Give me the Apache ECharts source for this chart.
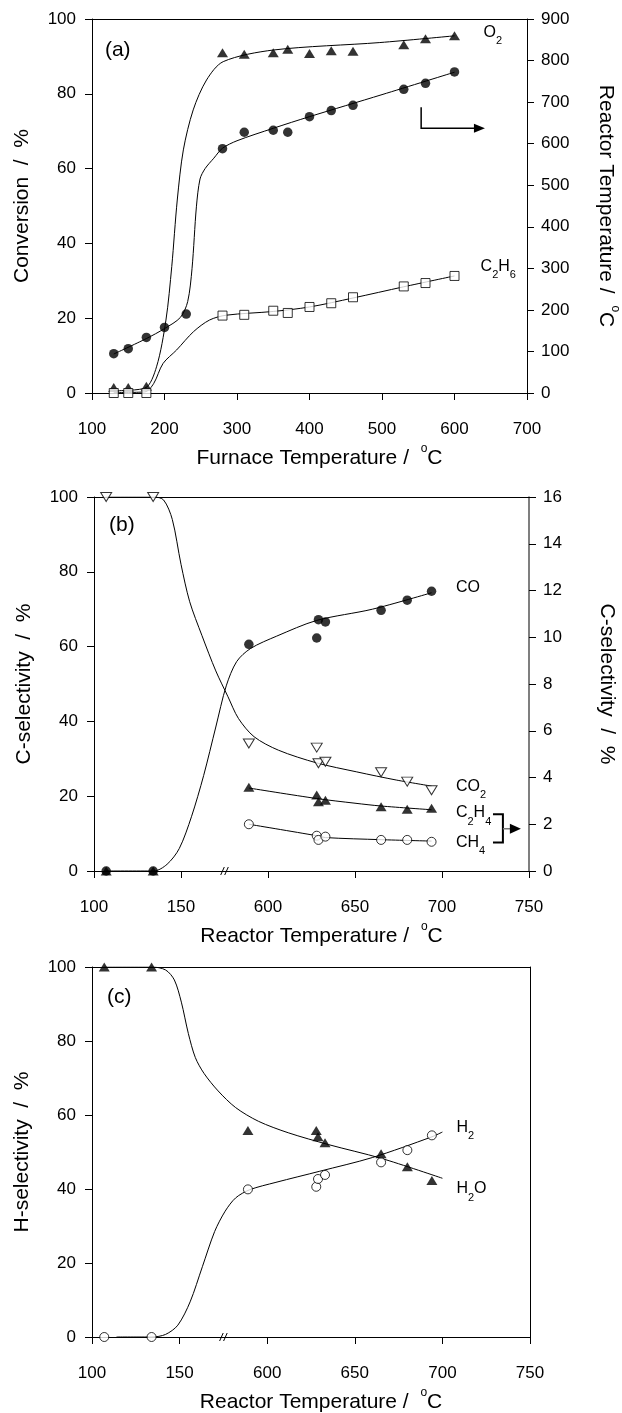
<!DOCTYPE html>
<html>
<head>
<meta charset="utf-8">
<script src="https://cdn.jsdelivr.net/npm/echarts@6/dist/echarts.min.js"></script>
<style>
html, body { margin: 0; padding: 0; background: #fff; }
#main { width: 622px; height: 1413px; }
</style>
</head>
<body>
<div id="main"></div>
<script>
const FONT = "'Liberation Sans', Arial, sans-serif";

// ---- (a) conversion vs furnace temperature ----
const furnaceT = [130, 150, 175, 280, 310, 350, 370, 400, 430, 460, 530, 560, 600];
const o2Conv = [1.5, 1.5, 1.8, 91.0, 90.6, 91.0, 91.9, 90.8, 91.5, 91.4, 93.1, 94.7, 95.5];
const c2h6Conv = [0, 0, 0, 20.7, 20.9, 22.0, 21.4, 23.0, 24.0, 25.6, 28.5, 29.4, 31.3];
const reactorFurnaceT = [130, 150, 175, 200, 230, 280, 310, 350, 370, 400, 430, 460, 530, 560, 600];
const reactorT = [94.6, 106.6, 133.8, 157.9, 189.9, 588, 627.5, 632.3, 627.5, 665, 679.6, 692.4, 730.9, 745.3, 772.5];

// fitted curves [furnace T, value]
const o2Fit = [[130, 0.6], [173, 1.3], [189, 7.0], [202, 19.5], [210, 33.8], [217.6, 51.6], [226, 65], [239.6, 75.7],
  [258, 83.7], [281, 88.6], [350, 91.7], [497, 93.7], [600, 95.5]];
const c2h6Fit = [[130, 0.1], [173, 0.3], [185, 2.5], [198, 7.9], [216.7, 11.5], [240, 16.4], [262, 19.5], [285, 20.8],
  [350, 21.8], [400, 23], [460, 25.4], [530, 28.4], [600, 31.3]];
const reactorFit = [[130, 93.8], [175, 131], [200, 155], [222, 182], [232, 220], [238, 300], [244, 448], [249, 515],
  [256, 540], [268, 565], [280, 589], [300, 607], [350, 637], [400, 665], [500, 718], [600, 772]];

// ---- (b), (c) selectivity vs reactor temperature ----
const reactorTemps = [107, 134, 589, 628, 629, 633, 665, 680, 694];
const co2Sel = [100, 100, 34.1, 33.0, 28.8, 29.2, 26.4, 23.9, 21.6];
const coSel = [0, 0, 60.6, 62.3, 67.2, 66.6, 69.7, 72.4, 74.8];
const c2h4Sel = [0, 0, 3.58, 3.25, 2.96, 3.03, 2.75, 2.64, 2.68];      // right axis
const ch4Sel = [null, null, 2.0, 1.51, 1.33, 1.47, 1.33, 1.33, 1.25];  // right axis
const h2oSel = [100, 100, 55.8, 55.8, 54.1, 52.5, 49.5, 46.0, 42.3];
const h2Sel = [0, 0, 39.9, 40.6, 42.7, 43.8, 47.2, 50.5, 54.5];

const co2Fit = [[106.6, 100], [134.4, 100], [140, 99.2], [145, 94], [150, 82], [155, 72], [162, 63], [170, 53.5],
  [577, 46.6], [583, 40.8], [592, 35.9], [606, 32.3], [628, 28.9], [651, 26.5], [674, 24.3], [694, 22.7]];
const coFit = [[106.6, 0], [134.4, 0], [142, 1.8], [149, 6], [156, 14.5], [163, 25.5], [170, 38.5], [576, 49.5],
  [582, 56], [590, 59.5], [605, 62.8], [628, 67], [660, 70], [694, 74.4]];
const c2h4Fit = [[589, 3.55], [628, 3.1], [650, 2.9], [665, 2.78], [694, 2.62]];
const ch4Fit = [[589, 2.0], [628, 1.51], [633, 1.43], [665, 1.34], [694, 1.28]];
const h2oFit = [[107, 100], [134.2, 100], [142, 99.2], [147, 96.5], [151, 90.5], [155, 82], [159, 75.5], [164, 71.2],
  [172, 66.5], [582, 62], [595, 58.3], [612, 55.2], [635, 52], [665, 48.3], [700, 42.9]];
const h2Fit = [[114, 0], [134.2, 0], [142, 0.7], [149, 3.2], [156, 9.5], [163, 19], [170, 28.5], [576, 34],
  [582, 37.6], [590, 39.8], [605, 41.8], [630, 44.8], [660, 48.5], [694, 54.1], [700, 55.4]];

// broken axis: 100..175 kept, 575.. shifted down by 400
function brk(t) { return t >= 575 ? t - 400 : t; }
function unbrk(u) { return u > 175 ? u + 400 : u; }

const chart = echarts.init(document.getElementById('main'));

const axisLine = { show: true, onZero: false, lineStyle: { color: '#000', width: 1 } };
const tick = { show: true, inside: false, length: 7, lineStyle: { color: '#000', width: 1 } };
const lbl = { color: '#000', fontSize: 17, fontFamily: FONT };
const supRich = { sup: { fontSize: 12, verticalAlign: 'top', lineHeight: 12, fontFamily: FONT, color: '#000' } };
const nameStyle = { color: '#000', fontSize: 21, fontFamily: FONT, lineHeight: 30, rich: supRich };

function frameX(gi, min, max) {
  return { gridIndex: gi, type: 'value', position: 'top', min, max, axisLine,
    axisTick: { show: false }, axisLabel: { show: false }, splitLine: { show: false } };
}
function bottomX(gi, min, max, interval, name, fmt) {
  return { gridIndex: gi, type: 'value', position: 'bottom', min, max, interval,
    name, nameLocation: 'middle', nameGap: 50, nameTextStyle: Object.assign({ padding: [0, 0, 0, 20] }, nameStyle),
    axisLine, axisTick: tick, axisLabel: Object.assign({ margin: 28, formatter: fmt }, lbl),
    splitLine: { show: false } };
}
function leftY(gi, name) {
  return { gridIndex: gi, type: 'value', position: 'left', min: 0, max: 100, interval: 20,
    name, nameLocation: 'middle', nameRotate: 90, nameGap: 54, nameTextStyle: nameStyle,
    axisLine, axisTick: tick, axisLabel: Object.assign({ margin: 16 }, lbl), splitLine: { show: false } };
}
function rightY(gi, max, interval, name, gap, color) {
  const line = color ? { show: true, lineStyle: { color, width: 1.5 } } : axisLine;
  return { gridIndex: gi, type: 'value', position: 'right', min: 0, max, interval,
    name, nameLocation: 'middle', nameRotate: -90, nameGap: gap, nameTextStyle: nameStyle,
    axisLine: line, axisTick: tick, axisLabel: Object.assign({ margin: 14 }, lbl), splitLine: { show: false } };
}

const sym = {
  filledCircle: { symbol: 'circle', symbolSize: 9.5, itemStyle: { color: '#000' } },
  openCircle: { symbol: 'circle', symbolSize: 9, itemStyle: { color: '#fff', borderColor: '#000', borderWidth: 1 } },
  filledTri: { symbol: 'triangle', symbolSize: [11, 9], itemStyle: { color: '#000' } },
  openDownTri: { symbol: 'triangle', symbolRotate: 180, symbolSize: [11, 9],
    itemStyle: { color: '#fff', borderColor: '#000', borderWidth: 1 } },
  openSquare: { symbol: 'rect', symbolSize: 9, itemStyle: { color: '#fff', borderColor: '#000', borderWidth: 1 } }
};

function fit(xi, yi, data, toAxis) {
  return { type: 'line', xAxisIndex: xi, yAxisIndex: yi, silent: true, z: 2,
    data: data.map(p => [toAxis ? brk(p[0]) : p[0], p[1]]),
    smooth: 0.3, symbol: 'none', lineStyle: { color: '#000', width: 1 } };
}
function pts(xi, yi, xs, ys, s, toAxis) {
  const data = [];
  xs.forEach((x, i) => { if (ys[i] != null) data.push([toAxis ? brk(x) : x, ys[i]]); });
  return Object.assign({ type: 'scatter', xAxisIndex: xi, yAxisIndex: yi, silent: true, z: 3, data }, s);
}

const tempName = 'Reactor Temperature /  {sup|o}C';

chart.setOption({
  animation: false,
  backgroundColor: '#fff',
  grid: [
    { left: 92, top: 19, width: 435, height: 374, outerBoundsMode: 'none' },
    { left: 94, top: 497, width: 435, height: 374, outerBoundsMode: 'none' },
    { left: 92, top: 967, width: 438, height: 370, outerBoundsMode: 'none' }
  ],
  xAxis: [
    bottomX(0, 100, 700, 100, 'Furnace Temperature /  {sup|o}C'),
    frameX(0, 100, 700),
    bottomX(1, 100, 350, 50, tempName, v => unbrk(v)),
    frameX(1, 100, 350),
    bottomX(2, 100, 350, 50, tempName, v => unbrk(v)),
    frameX(2, 100, 350)
  ],
  yAxis: [
    leftY(0, 'Conversion  /  %'),
    rightY(0, 900, 100, tempName, 64),
    leftY(1, 'C-selectivity  /  %'),
    rightY(1, 16, 2, 'C-selectivity  /  %', 63, '#555'),
    leftY(2, 'H-selectivity  /  %'),
    { gridIndex: 2, type: 'value', position: 'right', min: 0, max: 100, axisLine,
      axisTick: { show: false }, axisLabel: { show: false }, splitLine: { show: false } }
  ],
  series: [
    // (a)
    fit(0, 0, o2Fit), fit(0, 0, c2h6Fit), fit(0, 1, reactorFit),
    pts(0, 0, furnaceT, o2Conv, sym.filledTri),
    pts(0, 0, furnaceT, c2h6Conv, sym.openSquare),
    pts(0, 1, reactorFurnaceT, reactorT, sym.filledCircle),
    // (b)
    fit(2, 2, co2Fit, true), fit(2, 2, coFit, true), fit(2, 3, c2h4Fit, true), fit(2, 3, ch4Fit, true),
    pts(2, 2, reactorTemps, co2Sel, sym.openDownTri, true),
    pts(2, 3, reactorTemps, c2h4Sel, sym.filledTri, true),
    pts(2, 3, reactorTemps, ch4Sel, sym.openCircle, true),
    pts(2, 2, reactorTemps, coSel, sym.filledCircle, true),
    // (c)
    fit(4, 4, h2oFit, true), fit(4, 4, h2Fit, true),
    pts(4, 4, reactorTemps, h2oSel, sym.filledTri, true),
    pts(4, 4, reactorTemps, h2Sel, sym.openCircle, true)
  ]
});

// ---- annotations (placed in data units, converted by the chart) ----
function P(xi, yi, pt) { return chart.convertToPixel({ xAxisIndex: xi, yAxisIndex: yi }, pt); }

const subRich = { sub: { fontSize: 11, verticalAlign: 'bottom', lineHeight: 10, fontFamily: FONT, fill: '#000' } };
function label(xi, yi, x, y, text, size) {
  const p = P(xi, yi, [x, y]);
  return { type: 'text', x: p[0], y: p[1], z: 10, silent: true,
    style: { text, fill: '#000', fontSize: size || 16, fontFamily: FONT, lineHeight: 28,
      align: 'left', verticalAlign: 'middle', rich: subRich } };
}

const panelLabels = [
  [0, 0, 117.8, 91.7, '(a)', 21],
  [0, 0, 640, 96.3, 'O{sub|2}'],
  [0, 0, 636, 33.8, 'C{sub|2}H{sub|6}'],
  [2, 2, brk(108.6), 92.5, '(b)', 21],
  [2, 2, brk(708), 75.7, 'CO'],
  [2, 2, brk(708), 22.7, 'CO{sub|2}'],
  [2, 2, brk(708), 15.5, 'C{sub|2}H{sub|4}'],
  [2, 2, brk(708), 7.5, 'CH{sub|4}'],
  [4, 4, brk(108.6), 91.8, '(c)', 21],
  [4, 4, brk(708), 56.5, 'H{sub|2}'],
  [4, 4, brk(708), 40, 'H{sub|2}O']
];

const graphics = panelLabels.map(l => label(l[0], l[1], l[2], l[3], l[4], l[5]));

// (a) arrow pointing to the right axis
const arrowA = [[554, 76.4], [554, 70.8], [630, 70.8]].map(p => P(0, 0, p));
const tipA = P(0, 0, [642, 70.8]);
graphics.push({ type: 'polyline', silent: true, z: 10, shape: { points: arrowA },
  style: { stroke: '#000', lineWidth: 1.5, fill: null } });
graphics.push({ type: 'polygon', silent: true, z: 10,
  shape: { points: [[tipA[0], tipA[1]], [tipA[0] - 11, tipA[1] - 4.5], [tipA[0] - 11, tipA[1] + 4.5]] },
  style: { fill: '#000' } });

// (b) bracket joining C2H4 and CH4 with arrow to right axis
const br = [[729.3, 15.2], [735, 15.2], [735, 7.6], [729.3, 7.6]].map(p => P(2, 2, [brk(p[0]), p[1]]));
graphics.push({ type: 'polyline', silent: true, z: 10, shape: { points: br },
  style: { stroke: '#000', lineWidth: 2, fill: null } });
const bMid = P(2, 2, [brk(735), 11.3]);
graphics.push({ type: 'line', silent: true, z: 10,
  shape: { x1: bMid[0], y1: bMid[1], x2: bMid[0] + 8, y2: bMid[1] }, style: { stroke: '#777', lineWidth: 1.5 } });
graphics.push({ type: 'polygon', silent: true, z: 10,
  shape: { points: [[bMid[0] + 7, bMid[1] - 5], [bMid[0] + 18, bMid[1]], [bMid[0] + 7, bMid[1] + 5]] },
  style: { fill: '#000' } });

// axis break marks
[[2, 2], [4, 4]].forEach(([xi, yi]) => {
  const c = P(xi, yi, [175, 0]);
  [-2, 2].forEach(dx => {
    graphics.push({ type: 'line', silent: true, z: 10,
      shape: { x1: c[0] + dx - 1.8, y1: c[1] + 4, x2: c[0] + dx + 1.8, y2: c[1] - 4 },
      style: { stroke: '#000', lineWidth: 1 } });
  });
});

chart.setOption({ graphic: graphics });
</script>
</body>
</html>
